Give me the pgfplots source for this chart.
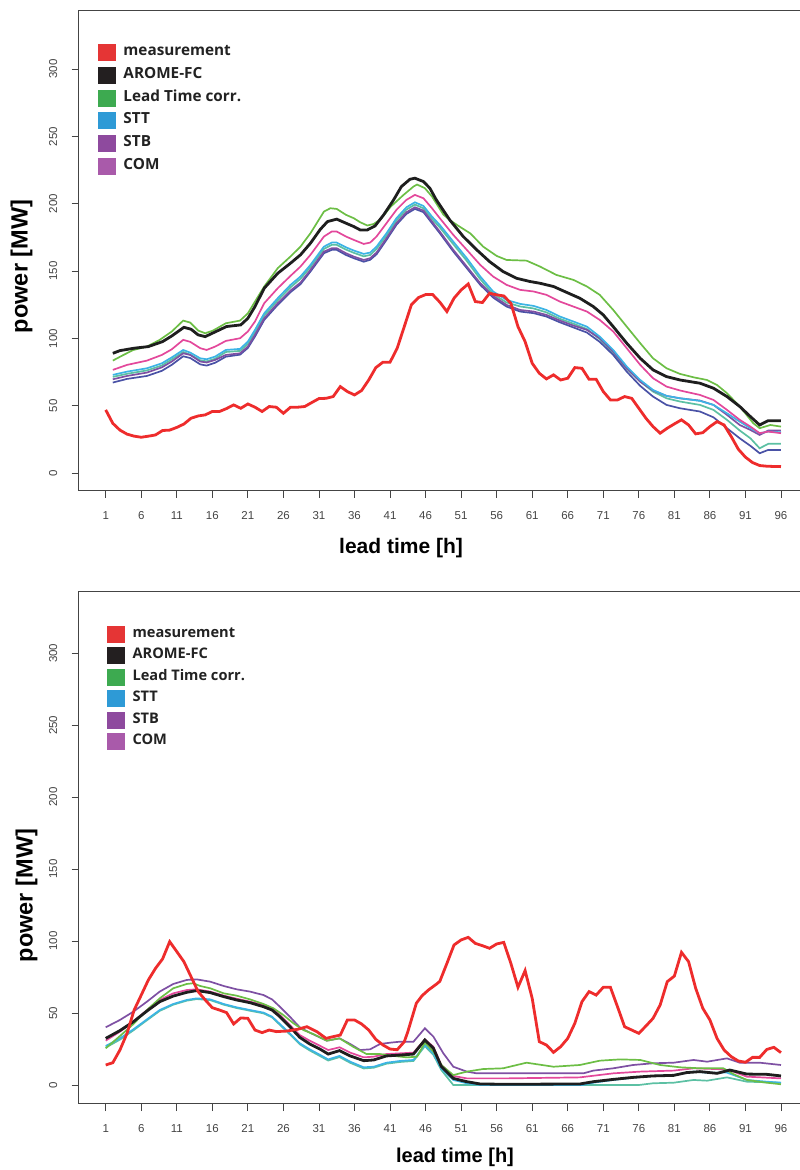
\documentclass[border=0pt]{standalone}
\usepackage{fontspec}
\setmainfont{Liberation Sans}
\newfontfamily\legfont{Open Sans}
\usepackage{pgfplots}
\pgfplotsset{compat=1.18}
\definecolor{cRed}{HTML}{EE2C2C}
\definecolor{cBlack}{HTML}{1E1E1E}
\definecolor{cGreen}{HTML}{6CBE45}
\definecolor{cPink}{HTML}{E3489B}
\definecolor{cBlue}{HTML}{3CB4E5}
\definecolor{cPurple}{HTML}{7E50A3}
\definecolor{cDark}{HTML}{4A52A6}
\definecolor{cTeal}{HTML}{5CC0A3}
\definecolor{lRed}{HTML}{E53535}
\definecolor{lBlack}{HTML}{231F20}
\definecolor{lGreen}{HTML}{3DAA50}
\definecolor{lBlue}{HTML}{2E9AD6}
\definecolor{lSTB}{HTML}{8E4A9E}
\definecolor{lCOM}{HTML}{A95AAA}
\definecolor{axcol}{HTML}{444444}
\definecolor{tickcol}{HTML}{444444}
\definecolor{legtext}{HTML}{222222}
\pgfplotsset{
  myaxis/.style={
    scale only axis, width=729.3pt,
    xmin=-2.8, xmax=99.8, ymin=-13.2, ymax=343.2,
    xtick={1,6,...,96}, ytick={0,50,...,300},
    tick pos=left, tick align=outside, major tick length=7pt,
    axis line style={draw=axcol, line width=1pt},
    every tick/.style={draw=axcol, line width=0.9pt},
    /pgf/number format/assume math mode=true,
    ticklabel style={font=\fontsize{11.5}{13}\selectfont, text=tickcol},
    yticklabel style={rotate=90, anchor=south, yshift=11pt},
    xticklabel style={anchor=north, yshift=-10pt},
    legend image code/.code={\fill[##1] (0pt,-8.5pt) rectangle (18pt,8.5pt);},
    legend cell align=left,
  },
  thin line/.style={line width=1.7pt},
  thick line/.style={line width=2.8pt},
}
\begin{document}
\begin{tikzpicture}[x=1pt,y=1pt]
\useasboundingbox (0,0) rectangle (800,1170);
% ================= TOP PANEL =================
\begin{axis}[myaxis, at={(78.7pt,679pt)}, anchor=south west, height=480.1pt,
  xlabel={lead time [h]}, ylabel={power [MW]},
  every axis x label/.style={at={(axis description cs:0.442,-0.1187)}, anchor=center, font=\bfseries\fontsize{21}{24}\selectfont},
  every axis y label/.style={at={(axis description cs:-0.0784,0.4676)}, anchor=center, rotate=90, font=\bfseries\fontsize{23.5}{26}\selectfont},
  legend style={draw=none, fill=none, at={(0.026,0.9367)}, anchor=north west, inner sep=0pt,
    font=\legfont\bfseries\fontsize{15.3}{16}\selectfont, text=legtext,
    nodes={inner sep=0pt, text height=14.2pt, text depth=8.5pt},
    /tikz/every odd column/.append style={column sep=7.6pt}},
]
\addplot[cTeal, thin line, forget plot] coordinates {(2,71.5)(4,73.8)(6.8,76.3)(8.9,80)(10.3,84.5)(11.9,90)(12.9,88)(14.3,83.8)(15.2,83)(16.4,85)(17.9,90)(19.9,90.8)(21,96)(22,104.8)(23.3,117)(25.2,128.3)(27,138)(28.4,144.3)(29.8,153)(31.7,166.5)(32.8,169.5)(33.5,169.5)(34.8,166)(35.9,163.6)(37.3,161)(38.2,162)(39.1,166.5)(40.5,176.4)(41.9,187.6)(43.3,195.7)(44.5,199.4)(45.7,196.7)(46.9,188.8)(48,182.5)(49.9,170)(51.8,157.6)(53.7,144)(55.5,133)(57.4,126.7)(59.3,123.8)(61.2,122.3)(63,119.4)(64.9,114.6)(66.8,111)(68.7,107)(70.5,99.5)(72.4,89)(74.3,77.5)(76.2,68)(78,60.6)(79.9,55.6)(81.8,53.2)(84.6,50.7)(86.5,47)(88.4,39.6)(90.2,31.7)(91.7,25.9)(93,18.5)(94.2,21.8)(96,21.8)};
\addplot[cDark, thin line, forget plot] coordinates {(2,67.3)(4,70)(6.8,72.2)(8.9,76)(10.3,80.5)(11.9,86.8)(12.9,85.5)(14.3,80.8)(15.2,79.9)(16.4,82)(17.9,86.5)(19.9,88)(21,93)(22,101.5)(23.3,113.8)(25.2,125)(27,134.4)(28.4,140.3)(29.8,149.7)(31.7,163.3)(32.8,165.8)(33.5,165.8)(34.8,162)(35.9,159.6)(37.3,157)(38.2,158.4)(39.1,162.5)(40.5,173.2)(41.9,184.4)(43.3,192.5)(44.5,196.2)(45.7,193.8)(46.9,185.6)(48,178.2)(49.9,164.6)(51.8,152.2)(53.7,139.8)(55.5,130.4)(57.4,123.7)(59.3,120)(61.2,118.8)(63,116.3)(64.9,112)(66.8,108.2)(68.7,104.4)(70.5,97.5)(72.4,87.8)(74.3,75.4)(76.2,64.8)(78,56.9)(79.9,50.7)(81.8,48.2)(84.6,45.8)(86.5,41.5)(88.4,33.4)(90.2,25.9)(91.7,20.3)(93,14.8)(94.2,17.3)(96,17.3)};
\addplot[cPurple, thin line, forget plot] coordinates {(2,69.7)(4,72.2)(6.8,74.7)(8.9,78.6)(10.3,82.9)(11.9,89)(12.9,87.8)(14.3,82.9)(15.2,82.2)(16.4,84.1)(17.9,87.8)(19.9,89)(21,94)(22,102.7)(23.3,115)(25.2,126.2)(27,135.6)(28.4,141.5)(29.8,150.9)(31.7,164.5)(32.8,167)(33.5,167)(34.8,163.3)(35.9,160.8)(37.3,158.3)(38.2,159.6)(39.1,163.8)(40.5,174.4)(41.9,185.6)(43.3,193.7)(44.5,197.4)(45.7,195)(46.9,186.8)(48,179.4)(49.9,165.8)(51.8,153.4)(53.7,141)(55.5,131.6)(57.4,124.9)(59.3,121.2)(61.2,120)(63,117.5)(64.9,113.3)(66.8,109.6)(68.7,106.4)(70.5,100.2)(72.4,90.3)(74.3,77.9)(76.2,68)(78,61.4)(79.9,57.4)(81.8,55.6)(84.6,53.9)(86.5,50.7)(88.4,43.3)(90.2,35.8)(91.7,32.1)(93,28.4)(94.2,31.7)(96,31.7)};
\addplot[cBlue, thin line, forget plot] coordinates {(2,73)(4,75.4)(6.8,77.9)(8.9,81.6)(10.3,86)(11.9,91.5)(12.9,89.5)(14.3,85.3)(15.2,84.6)(16.4,86.6)(17.9,91.5)(19.9,92.3)(21,97.7)(22,106.4)(23.3,118.7)(25.2,129.9)(27,139.8)(28.4,146)(29.8,154.6)(31.7,168.2)(32.8,171.2)(33.5,171.2)(34.8,167.7)(35.9,165.3)(37.3,162.8)(38.2,163.8)(39.1,168.2)(40.5,178.1)(41.9,189.3)(43.3,197.4)(44.5,201.1)(45.7,198.4)(46.9,190.5)(48,184.3)(49.9,171.9)(51.8,159.6)(53.7,146)(55.5,134.9)(57.4,128.6)(59.3,125.7)(61.2,124.2)(63,121.2)(64.9,116.3)(66.8,112.6)(68.7,108.8)(70.5,101.4)(72.4,91.5)(74.3,79.2)(76.2,69.2)(78,61.8)(79.9,57.4)(81.8,55.6)(84.6,53.7)(86.5,50.7)(88.4,44.5)(90.2,38.3)(91.7,33.4)(93,29.7)(94.2,30.9)(96,30.4)};
\addplot[cPink, thin line, forget plot] coordinates {(2,76.7)(4,80.4)(6.8,83.6)(8.9,87.8)(10.3,92)(11.9,99)(12.9,97.5)(14.3,92.8)(15.2,91.5)(16.4,94)(17.9,98.2)(19.9,100.2)(21,105.2)(22,112.6)(23.3,126.2)(25.2,137.3)(27,146.5)(28.4,153.4)(29.8,162.1)(31.7,175.7)(32.8,179.4)(33.5,179.4)(34.8,175.7)(35.9,173.2)(37.3,170.2)(38.2,171.2)(39.1,175.7)(40.5,185.6)(41.9,195.5)(43.3,202.9)(44.5,206.6)(45.7,204.1)(46.9,196.7)(48,189.3)(49.9,176.9)(51.8,165.8)(53.7,154.6)(55.5,146)(57.4,139.8)(59.3,136.1)(61.2,134.9)(63,132.4)(64.9,127.4)(66.8,123.7)(68.7,120)(70.5,113.8)(72.4,105.2)(74.3,92.8)(76.2,80.4)(78,70.5)(79.9,64.3)(81.8,61.4)(84.6,58.1)(86.5,54.4)(88.4,47)(90.2,39.6)(91.7,34.6)(93,29.7)(94.2,30.9)(96,29.7)};
\addplot[cGreen, thin line, forget plot] coordinates {(2,83.6)(3.5,87.8)(4.9,91.5)(6.8,94)(8.6,99)(10.3,105.2)(11.9,113.3)(12.9,111.8)(14,105.9)(15,103.9)(16.1,105.9)(17.9,111.3)(19.9,113.3)(21,118.7)(22,127.4)(23.3,138.6)(25.2,152.2)(27,160.9)(28.4,168.2)(29.8,178.1)(31.7,194.2)(32.6,196.7)(33.5,196.2)(34.8,191.8)(35.9,189.3)(36.8,186.3)(37.8,183.9)(38.7,185)(39.7,188.6)(41.1,197.9)(42.9,206.6)(44.3,212.8)(44.8,214.3)(45.9,211.6)(46.9,205.4)(48.5,192)(49.4,188)(50.5,184)(52.3,178)(54.1,168.2)(56,161.3)(57.4,158.3)(60.2,157.8)(62.1,153.4)(64.4,147.2)(66.8,143.5)(68.7,138.6)(70.5,132.4)(72.4,121.2)(74.3,108.8)(76.2,96.5)(78,85.3)(79.9,77.9)(81.8,73.7)(83.7,71.2)(85.6,69.2)(87,65.5)(88.4,59.4)(90.2,49.5)(92.1,37.1)(93,33.4)(94.5,35.8)(96,34.6)};
\addplot[cBlack, thick line, forget plot] coordinates {(2,89)(3,91)(5,92.8)(7,94)(9,97.7)(10.3,101.9)(12,108.3)(13,106.9)(14,102.7)(15,101.4)(16,103.9)(18,108.9)(20,110.1)(21,115)(22,123.7)(23.3,137.3)(25.2,148.4)(27,155.9)(28.4,162.1)(29.8,170.7)(31.2,181.1)(32.2,186.8)(33.5,188.6)(34.8,185.6)(35.9,183.1)(36.8,180.6)(37.8,180.6)(38.9,183.6)(40.1,191.8)(41.5,202.9)(42.6,212.8)(43.8,218.2)(44.5,219)(45.7,216.5)(46.6,211.6)(47.5,203)(49.4,188)(51.3,175.7)(53.2,165.8)(55,157.1)(56.9,149.7)(58.8,144.7)(60.7,142.3)(62.1,141)(64,138.6)(65.9,134.1)(67.7,129.9)(69.6,123.7)(71,117.5)(72.4,108.8)(74.3,96.5)(76.2,85.3)(78,76.7)(79.9,71.7)(81.8,69.2)(84.6,66.8)(86.5,63.1)(88.4,56.9)(90.2,49.5)(91.7,42)(93,35.8)(94.2,39)(96,39)};
\addplot[cRed, thick line, forget plot] coordinates {(1,47)(2,37)(3,32)(4,29)(5,27.5)(6,26.7)(7,27.5)(8,28.4)(9,31.7)(10,32)(11,34)(12,36.5)(13,40.8)(14,42.5)(15,43.3)(16,45.8)(17,45.8)(18,48)(19,50.7)(20,48.2)(21,51.4)(22,49)(23,45.8)(24,49.5)(25,49)(26,44.5)(27,49)(28,49)(29,49.5)(30,52.5)(31,55.4)(32,55.6)(33,56.9)(34,64.3)(35,60.6)(36,58.1)(37,61.4)(38,69.2)(39,78.4)(40,82.4)(41,82.4)(42,92.7)(43,108.8)(44,125)(45,130.4)(46,132.6)(47,132.6)(48,127)(49,120)(50,129.9)(51,136)(52,140.5)(53,127.4)(54,126.7)(55,133.6)(56,132.4)(57,131.6)(58,126.2)(59,108.8)(60,97.7)(61,81.6)(62,74.2)(63,70)(64,73)(65,69.2)(66,70.5)(67,78.4)(68,77.9)(69,69.7)(70,69.7)(71,60.6)(72,54.4)(73,54.4)(74,56.9)(75,55.6)(76,48.2)(77,40.8)(78,34.6)(79,29.7)(80,33.4)(81,36.6)(82,39.6)(83,35.8)(84,29.2)(85,30.1)(86,34.6)(87,38.3)(88,35.8)(89,27.2)(90,17.8)(91,11.9)(92,7.9)(93,5.7)(94,5.2)(95,5)(96,4.9)};
\addlegendimage{fill=lRed, draw=none}\addlegendentry{measurement}
\addlegendimage{fill=lBlack, draw=none}\addlegendentry{AROME-FC}
\addlegendimage{fill=lGreen, draw=none}\addlegendentry{Lead Time corr.}
\addlegendimage{fill=lBlue, draw=none}\addlegendentry{STT}
\addlegendimage{fill=lSTB, draw=none}\addlegendentry{STB}
\addlegendimage{fill=lCOM, draw=none}\addlegendentry{COM}
\end{axis}
% ================= BOTTOM PANEL =================
\begin{axis}[myaxis, at={(78.7pt,66pt)}, anchor=south west, height=512.9pt,
  xlabel={lead time [h]}, ylabel={power [MW]},
  every axis x label/.style={at={(axis description cs:0.516,-0.1033)}, anchor=center, font=\bfseries\fontsize{20}{23}\selectfont},
  every axis y label/.style={at={(axis description cs:-0.0716,0.4065)}, anchor=center, rotate=90, font=\bfseries\fontsize{23.5}{26}\selectfont},
  legend style={draw=none, fill=none, at={(0.0384,0.937)}, anchor=north west, inner sep=0pt,
    font=\legfont\bfseries\fontsize{14.6}{16}\selectfont, text=legtext,
    nodes={inner sep=0pt, text height=13.5pt, text depth=8pt},
    /tikz/every odd column/.append style={column sep=7.7pt}},
]
\addplot[cTeal, thin line, forget plot] coordinates {(1,26)(3,31.5)(4.9,38)(6.8,45)(8.6,51.5)(10.5,55.8)(12.4,58.6)(13.8,59.7)(15.7,59)(17.6,55.8)(19.4,53.5)(21.3,51.6)(23.2,49.8)(24.4,47)(25.5,41.8)(26.9,35.2)(28.3,28.3)(29.7,24)(31.2,20)(32.3,17)(33.9,19.4)(35.4,15.4)(37.3,11.5)(38.7,12)(40.5,14.8)(42.4,16)(44.3,16.7)(45.9,27)(47.1,21)(48.2,10.5)(49.9,0)(76,0)(78,1.2)(80.9,1.6)(83.7,3.5)(85.6,3)(88.4,5.3)(91.2,2.3)(96,1.6)};
\addplot[cPurple, thin line, forget plot] coordinates {(1,40.1)(3,45.2)(4.9,51)(6.8,57.9)(8.6,64.9)(10.5,70.2)(12.4,73)(13.8,73.4)(15.7,71.8)(17.6,68.8)(19.4,66.5)(21.3,64.9)(23.2,62.5)(24.4,59.5)(25.5,54.4)(26.9,47.5)(28.3,40.1)(29.7,36.4)(30.9,33.6)(32.1,30.8)(33.9,32.4)(35.4,28.5)(36.8,24.3)(38.2,24.8)(39.6,28.5)(41,29.4)(42.4,30.1)(44.3,30.1)(45.9,39.4)(47.1,33.6)(48.5,22)(49.9,12.7)(51.8,9.3)(53.2,8.1)(57.4,8.1)(68.2,8.1)(69.6,10)(72.4,11.6)(75.2,13.9)(78,15.1)(80.9,15.5)(83.7,17.4)(85.6,16.2)(88.4,18.5)(90.2,15.5)(93,15.5)(96,13.9)};
\addplot[cBlue, thin line, forget plot] coordinates {(1,27.1)(3,32.4)(4.9,38.7)(6.8,45.6)(8.6,52.1)(10.5,56.3)(12.4,59.1)(13.8,60.2)(15.7,59.5)(17.6,56.3)(19.4,54)(21.3,52.1)(23.2,50.3)(24.4,47.5)(25.5,42.4)(26.9,35.9)(28.3,29)(29.7,24.8)(31.2,20.8)(32.3,17.8)(33.9,20.2)(35.4,16.2)(37.3,12.3)(38.7,12.7)(40.5,15.5)(42.4,16.7)(44.3,17.4)(45.9,27.8)(47.1,22)(48.2,11.5)(49.9,3.5)(51.8,1.2)(53.7,0)(68,0)(69.6,1.6)(72.4,3.5)(75.2,5.1)(78,6.3)(80.9,6.9)(83.7,9.3)(85.6,8.6)(88.4,8.6)(91.2,3.5)(94,2.3)(96,1.6)};
\addplot[cPink, thin line, forget plot] coordinates {(1,30.8)(3,37.1)(4.9,44)(6.8,52.1)(8.6,59.1)(10.5,63.7)(12.4,66)(13.8,66.5)(15.7,64.9)(17.6,62.1)(19.4,60)(21.3,57.9)(23.2,55.6)(24.4,53.3)(25.5,48.6)(26.9,41.7)(28.3,34.7)(29.7,30.8)(31.2,27.1)(32.3,24.3)(33.9,26.2)(35.4,22.5)(37.3,19.2)(38.7,19.7)(40.5,21.5)(42.4,22)(44.3,22.5)(45.9,31.7)(47.1,26.6)(48.2,14)(49.9,6.3)(51.8,4.6)(57.4,4.6)(67.7,5.3)(72.4,8.1)(76.2,9.3)(80.9,10)(83.7,11.6)(87.9,10.9)(89.3,9.3)(91.2,5.8)(96,4.6)};
\addplot[cGreen, thin line, forget plot] coordinates {(1,25.5)(3,34)(4.9,42.4)(6.8,52.1)(8.6,60.2)(10.5,67.2)(12.4,70.2)(13.3,70.7)(14.3,68.8)(15.7,67.2)(17.6,63.7)(19.4,62.1)(21.3,59.5)(23.2,56.3)(24.6,53.3)(26,48.6)(27.4,42.9)(28.8,38.2)(30.2,35.4)(32.1,30.8)(33.9,32.4)(35.8,26.6)(37.7,21.5)(39.6,21.5)(41.5,20.2)(43.4,19.2)(44.8,19.7)(45.9,29.4)(47.1,23.2)(48.3,13.5)(49.9,6.9)(51.8,9.3)(54.1,11.1)(56.9,11.6)(60.2,15.5)(64,12.7)(67.7,13.9)(70.5,16.9)(73.4,17.8)(76.2,17.4)(79,13.9)(81.8,12.3)(84.6,11.6)(87.9,11.6)(89.3,7.6)(91.2,3.5)(94,1.6)(96,0.5)};
\addplot[cBlack, thick line, forget plot] coordinates {(1,32.4)(3,37.8)(4.9,44)(6.8,51.4)(8.6,57.9)(10.5,61.8)(12.4,64.4)(13.8,65.6)(15.7,64.2)(17.6,61.4)(19.4,59.1)(21.3,57.2)(23.2,54.4)(24.4,52.1)(25.5,47.5)(26.9,40.5)(28.3,33.1)(29.7,28.5)(31.2,24.8)(32.3,21.5)(33.9,23.9)(35.4,20.2)(37.3,16.9)(38.7,17.4)(40.5,20.2)(42.4,20.8)(44.3,21.5)(45.9,31.3)(47.1,25.5)(48.2,13)(49.9,4.6)(51.8,2.3)(53.7,0.7)(57.4,0.5)(67.7,0.7)(69.6,2.3)(72.4,3.9)(75.2,5.3)(78,6.3)(80.9,6.7)(82.7,8.6)(84.6,9.3)(87,8.1)(88.8,10.4)(91.2,7.6)(94,7.4)(96,6.3)};
\addplot[cRed, thick line, forget plot] coordinates {(1,13.9)(2,15.5)(3,24.3)(4,35.9)(5,52.1)(6,62.5)(7,73)(8,81)(9,87.6)(10,99.6)(11,92.7)(12,85.7)(13,75.3)(14,64.9)(15,59.1)(16,53.7)(17,52.1)(18,50.3)(19,42.4)(20,46.6)(21,46.3)(22,38.2)(23,36.4)(24,38.2)(25,37.1)(26.5,37.5)(28,38.7)(29.3,40.5)(30.7,37.1)(32,32.4)(33,33.6)(34,34.7)(35,45.2)(36,45.2)(37,42.4)(38,38.2)(39,31.7)(40,27.8)(41,25)(42,24.5)(43,30)(43.5,37)(44.7,56.8)(45.5,62)(46.4,66)(47.5,70)(48,72)(49,84.5)(50,97.3)(51,100.8)(52,102.6)(53,98.4)(54,96.8)(55,95)(56,98)(57,99.1)(58,84.5)(59,67.9)(60,79.5)(61,60.2)(62,30.1)(63,27.8)(64,22.7)(65,26.6)(66,32.4)(67,42.9)(68,57.9)(69,64.9)(70,62.5)(71,67.9)(72,67.9)(73,54.4)(74,40.5)(75,38.2)(76,35.9)(77,41)(78,46.3)(79,55.6)(80,71.8)(81,75.7)(82,92.2)(83,85.7)(84,67.2)(85,53.3)(86,45.2)(87,32.4)(88,24.3)(89,19.7)(90,16.7)(91,15.8)(92,19.2)(93,19.2)(94,24.7)(95,26.2)(96,22.5)};
\addlegendimage{fill=lRed, draw=none}\addlegendentry{measurement}
\addlegendimage{fill=lBlack, draw=none}\addlegendentry{AROME-FC}
\addlegendimage{fill=lGreen, draw=none}\addlegendentry{Lead Time corr.}
\addlegendimage{fill=lBlue, draw=none}\addlegendentry{STT}
\addlegendimage{fill=lSTB, draw=none}\addlegendentry{STB}
\addlegendimage{fill=lCOM, draw=none}\addlegendentry{COM}
\end{axis}
\end{tikzpicture}
\end{document}
